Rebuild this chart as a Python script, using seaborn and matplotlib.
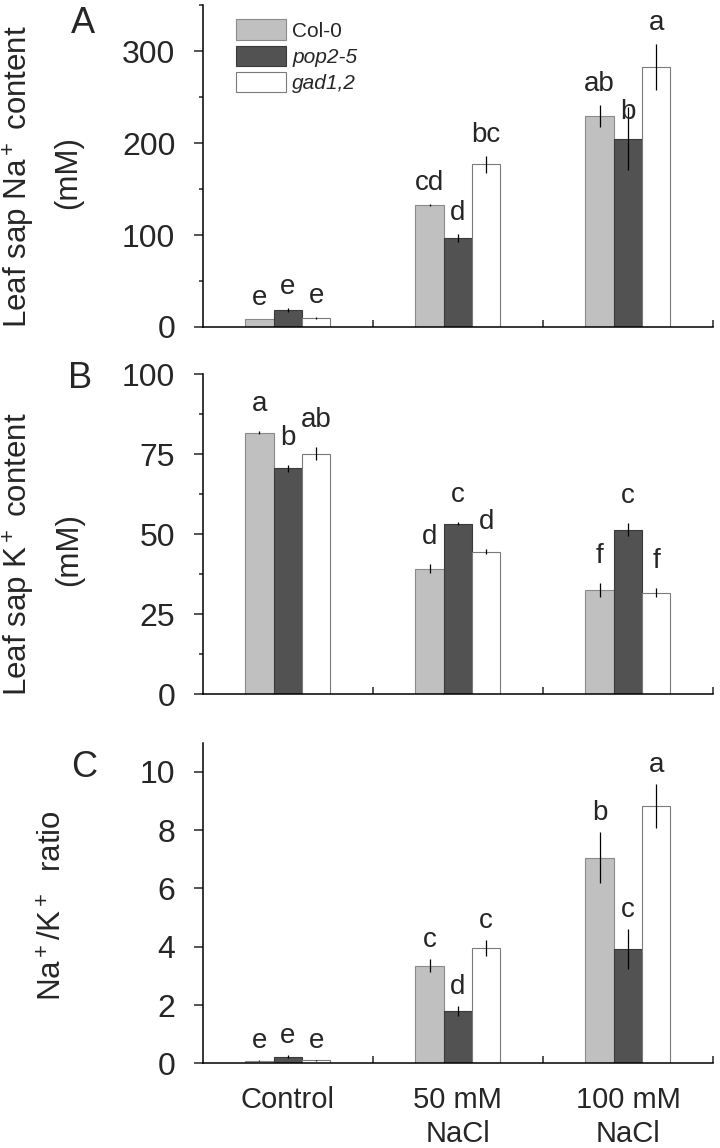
import numpy as np
import pandas as pd
import matplotlib
matplotlib.use('Agg')
import matplotlib.pyplot as plt
import seaborn as sns
from matplotlib.ticker import MultipleLocator

treatments = ['Control', '50 mM\nNaCl', '100 mM\nNaCl']
genotypes = ['Col-0', 'pop2-5', 'gad1,2']

# rows: Col-0, pop2-5, gad1,2 ; columns: Control, 50 mM, 100 mM
na_mean = [[8.7, 133, 230], [18.5, 97, 205], [10, 177, 283]]
na_sem = [[0.5, 1, 12], [2, 4, 34], [0.8, 9, 25]]
na_letters = [['e', 'cd', 'ab'], ['e', 'd', 'b'], ['e', 'bc', 'a']]

k_mean = [[81.7, 39.2, 32.5], [70.5, 53.2, 51.3], [75.1, 44.4, 31.7]]
k_sem = [[0.4, 1.5, 2.3], [1.2, 0.4, 2.0], [2.0, 0.8, 1.4]]
k_letters = [['a', 'd', 'f'], ['b', 'c', 'c'], ['ab', 'd', 'f']]

ratio_mean = [[0.09, 3.35, 7.06], [0.23, 1.79, 3.93], [0.10, 3.95, 8.83]]
ratio_sem = [[0.02, 0.22, 0.88], [0.04, 0.16, 0.69], [0.02, 0.27, 0.76]]
ratio_letters = [['e', 'c', 'b'], ['e', 'd', 'c'], ['e', 'c', 'a']]

bar_colors = ['#c0c0c0', '#525252', '#ffffff']
edge_colors = ['#8a8a8a', '#3a3a3a', '#7a7a7a']

sns.set_style('ticks')
plt.rcParams['font.family'] = ['Liberation Sans', 'DejaVu Sans']
plt.rcParams['mathtext.fontset'] = 'custom'
plt.rcParams['mathtext.rm'] = 'Liberation Sans'
plt.rcParams['mathtext.it'] = 'Liberation Sans:italic'
plt.rcParams['axes.linewidth'] = 1.1
plt.rcParams['axes.edgecolor'] = 'black'

W, H = 720, 1148
fig = plt.figure(figsize=(W / 100, H / 100), dpi=100)


def add_axes_px(top, bottom, left=202.7, right=713):
    return fig.add_axes([left / W, 1 - bottom / H, (right - left) / W, (bottom - top) / H])


def long_table(mean):
    rows = []
    for g, vals in zip(genotypes, mean):
        for t, v in zip(treatments, vals):
            rows.append({'treatment': t, 'genotype': g, 'value': v})
    return pd.DataFrame(rows)


def draw_panel(ax, mean, sem, letters, ymax, major, minor, offset, nudge=None, show_x=False):
    nudge = nudge or {}
    df = long_table(mean)
    sns.barplot(data=df, x='treatment', y='value', hue='genotype',
                order=treatments, hue_order=genotypes, palette=bar_colors,
                saturation=1, width=0.5, errorbar=None, linewidth=0.8,
                edgecolor='black', legend=False, ax=ax)
    bar_conts = list(ax.containers)
    for j, cont in enumerate(bar_conts):
        bars = sorted(cont, key=lambda b: b.get_x())
        for b in bars:
            b.set_edgecolor(edge_colors[j])
        xs = [b.get_x() + b.get_width() / 2 for b in bars]
        hs = [b.get_height() for b in bars]
        ax.errorbar(xs, hs, yerr=sem[j], fmt='none', ecolor='black',
                    elinewidth=0.9, capsize=0, zorder=3)
        for i, (x, h) in enumerate(zip(xs, hs)):
            dy = offset + nudge.get((j, i), 0)
            ax.annotate(letters[j][i], (x, h + sem[j][i]), xytext=(0, dy),
                        textcoords='offset pixels', ha='center', va='baseline',
                        fontsize=20)

    ax.set_xlim(-0.5, 2.5)
    ax.set_ylim(0, ymax)
    ax.set_xticks(range(3))
    ax.set_xticks([0.5, 1.5, 2.5], minor=True)
    ax.tick_params(axis='x', which='major', length=0, pad=16, labelsize=21)
    ax.tick_params(axis='x', which='minor', direction='in', length=5, width=1.1)
    ax.yaxis.set_major_locator(MultipleLocator(major))
    if minor:
        ax.yaxis.set_minor_locator(MultipleLocator(minor))
    ax.tick_params(axis='y', which='major', direction='out', length=6.7,
                   width=1.1, pad=13, labelsize=23)
    ax.tick_params(axis='y', which='minor', direction='out', length=3.2, width=1.1)
    if show_x:
        ax.set_xticklabels(treatments)
        for lab in ax.get_xticklabels():
            lab.set_linespacing(1.3)
    else:
        ax.tick_params(axis='x', labelbottom=False)
    ax.set_xlabel('')
    ax.set_ylabel('')
    sns.despine(ax=ax)
    return bar_conts


ax_a = add_axes_px(5.3, 327)
ax_b = add_axes_px(374, 694)
ax_c = add_axes_px(742.7, 1063.3)

conts = draw_panel(ax_a, na_mean, na_sem, na_letters, 350, 100, 50, 14, nudge={(1, 2): -26})
draw_panel(ax_b, k_mean, k_sem, k_letters, 100, 25, 12.5, 20)
draw_panel(ax_c, ratio_mean, ratio_sem, ratio_letters, 11, 2, None, 12, show_x=True)

leg = ax_a.legend(conts, genotypes, loc='upper left', bbox_to_anchor=(0.0653, 0.9565),
                  frameon=False, fontsize=15, handlelength=2.4, handleheight=1.13,
                  labelspacing=0.24, handletextpad=0.3, borderpad=0, borderaxespad=0)
for t in leg.get_texts()[1:]:
    t.set_fontstyle('italic')


def ylabel_line(text, x_px, yc_px, size=22.5):
    fig.text(x_px / W, 1 - yc_px / H, text, rotation=90, rotation_mode='anchor',
             ha='center', va='baseline', fontsize=size)


ylabel_line('Leaf sap Na$^+$ content', 28, 176.5)
ylabel_line('(mM)', 76, 172.5)
ylabel_line('Leaf sap K$^+$ content', 28, 554)
ylabel_line('(mM)', 77, 550)
ylabel_line('Na$^+$/K$^+$  ratio', 62, 906)

for letter, x_px, y_px in [('A', 83, 33.3), ('B', 80.5, 388), ('C', 84, 777)]:
    fig.text(x_px / W, 1 - y_px / H, letter, ha='center', va='baseline', fontsize=26)

fig.savefig('out.png', dpi=100)
